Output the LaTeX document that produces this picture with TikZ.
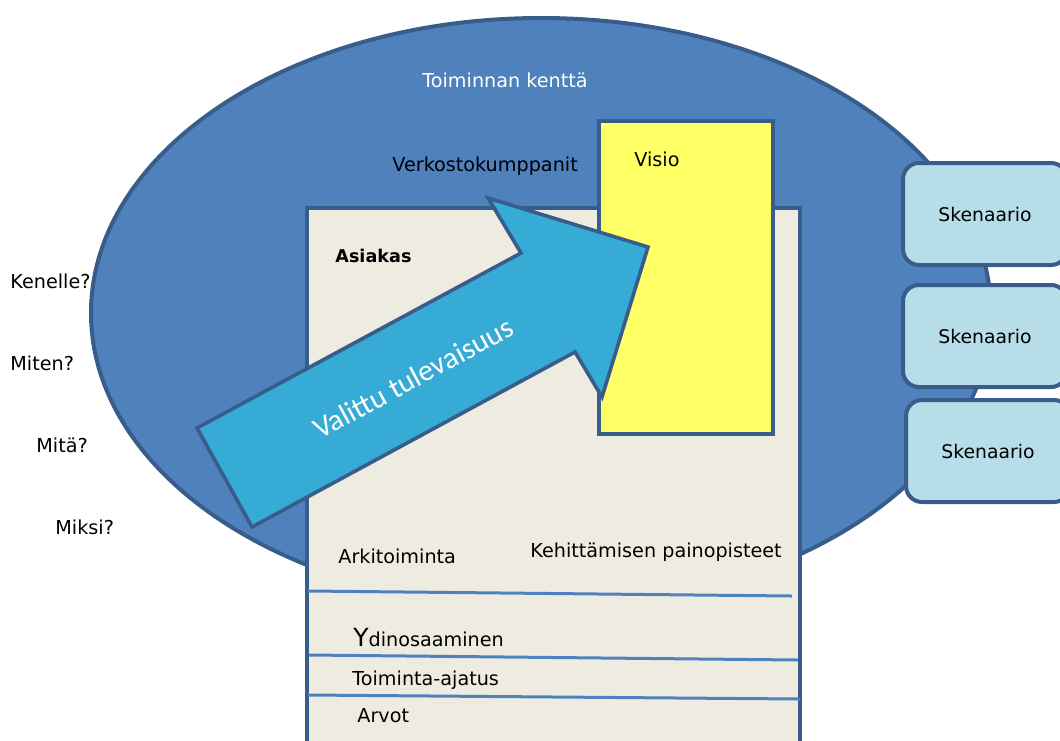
\documentclass[tikz,border=0pt]{standalone}
\usepackage{fontspec}
\setmainfont{DejaVu Sans}
\newfontfamily\arrowfont{Carlito}
\usetikzlibrary{positioning}
\definecolor{fieldblue}{RGB}{79,129,189}
\definecolor{edgeblue}{RGB}{56,93,138}
\definecolor{paperbeige}{RGB}{238,236,225}
\definecolor{visioyellow}{RGB}{255,255,102}
\definecolor{arrowcyan}{RGB}{54,171,214}
\definecolor{skenblue}{RGB}{183,222,232}

\begin{document}
\begin{tikzpicture}[x=0.5pt,y=-0.5pt,
  txt/.style={font=\fontsize{9.6}{11}\selectfont, inner sep=0pt, anchor=west},
  skenbox/.style={draw=edgeblue, line width=2pt, fill=skenblue, rounded corners=8pt,
    minimum width=82pt, minimum height=51pt, font=\fontsize{9.4}{11}\selectfont},
  rowline/.style={draw=fieldblue, line width=1.5pt}]
  \useasboundingbox (0,0) rectangle (1060,740);
  \clip (0,0) rectangle (1060,740);

  % Toiminnan kentta (ellipse)
  \draw[fill=fieldblue, draw=edgeblue, line width=2pt]
    (541,313) ellipse [x radius=225pt, y radius=147.5pt];

  % paperi: asiakas ... arvot
  \draw[fill=paperbeige, draw=edgeblue, line width=2.2pt]
    (307,760) -- (307,208) -- (800,208) -- (800,760);

  % rivien viivat
  \draw[rowline] (308,591) -- (792,596);
  \draw[rowline] (309,655) -- (798,660);
  \draw[rowline] (308,695) -- (800,699);

  % Visio
  \draw[fill=visioyellow, draw=edgeblue, line width=2pt]
    (599,121) rectangle (773,434);

  % nuoli: valittu tulevaisuus
  \draw[fill=arrowcyan, draw=edgeblue, line width=1.8pt, line join=miter]
    (197,428) -- (521,253) -- (488,198) -- (648,247)
    -- (602,397) -- (575,352) -- (252,527) -- cycle;
  \node[font=\arrowfont\fontsize{15}{17}\selectfont, text=white, rotate=28.4,
    inner sep=0pt] (tulevaisuus) at (413,378) {Valittu tulevaisuus};

  % skenaariot
  \node[skenbox] (sken1) at (985,214) {Skenaario};
  \node[skenbox] (sken2) at (985,336) {Skenaario};
  \node[skenbox] (sken3) at (988,451) {Skenaario};

  % tekstit
  \node[txt, text=white] (kentta) at (422,80) {Toiminnan kenttä};
  \node[txt] (verkosto) at (392,166) {Verkostokumppanit};
  \node[txt] (visio) at (634,159) {Visio};
  \node[txt, font=\bfseries\fontsize{8.8}{11}\selectfont] (asiakas) at (335,256) {Asiakas};
  \node[txt] (kenelle) at (10,281) {Kenelle?};
  \node[txt] (miten) at (10,363) {Miten?};
  \node[txt] (mita) at (36,445) {Mitä?};
  \node[txt] (miksi) at (55,527) {Miksi?};
  \node[txt] (arki) at (338,556) {Arkitoiminta};
  \node[txt] (painopisteet) at (530,552) {Kehittämisen painopisteet};
  \node[txt] (ydin) at (353,638) {{\fontsize{12.5}{13}\selectfont Y}dinosaaminen};
  \node[txt] (ajatus) at (352,680) {Toiminta-ajatus};
  \node[txt] (arvot) at (357,716) {Arvot};
\end{tikzpicture}
\end{document}
